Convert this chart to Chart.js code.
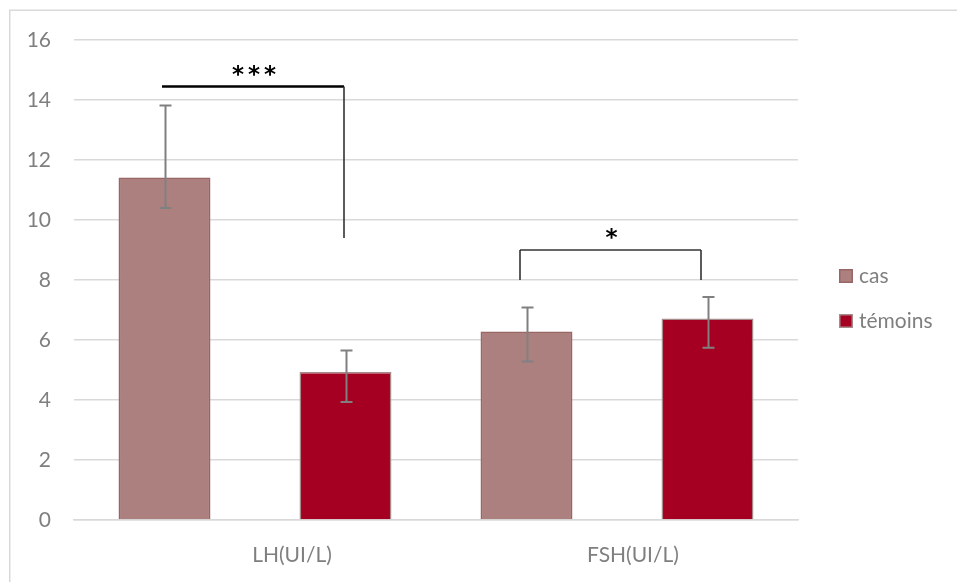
<!DOCTYPE html>
<html>
<head>
<meta charset="utf-8">
<script src="https://cdn.jsdelivr.net/npm/chart.js@4/dist/chart.umd.min.js"></script>
<style>
  html, body { margin: 0; padding: 0; background: #ffffff; }
  #wrap { width: 957px; height: 582px; position: relative; }
</style>
</head>
<body>
<div id="wrap"><canvas id="c" width="957" height="582"></canvas></div>
<script>
// Hormone levels, cases vs controls
const categories = ['LH(UI/L)', 'FSH(UI/L)'];
const seriesNames = ['cas', 'témoins'];
const casValues = [11.42, 6.28];
const temoinsValues = [4.93, 6.72];
const casErrPlus = [2.4, 0.8];
const casErrMinus = [1.02, 1.0];
const temoinsErrPlus = [0.72, 0.71];
const temoinsErrMinus = [1.0, 0.98];
const yTicks = [0, 2, 4, 6, 8, 10, 12, 14, 16];

// Significance brackets, one per category
const sigLabels = ['***', '*'];
const sigBarLevels = [14.45, 9.0];
const sigLeftDrop = [null, 8.0];
const sigRightDrop = [9.4, 8.0];

const FONT = 'Lato, "Open Sans", sans-serif';
const TEXT_GREY = '#7f7f7f';
const GRID_GREY = '#d9d9d9';
const xLabelNudge = [37, 16];
const bracketShift = [[-3, -2], [-6.5, -7]];

const colors = {
  casFill: '#ad8080', casBorder: '#9a6565',
  temFill: '#a50021', temBorder: '#a78a8a'
};

const errPlus = [casErrPlus, temoinsErrPlus];
const errMinus = [casErrMinus, temoinsErrMinus];

const framePlugin = {
  id: 'frame',
  beforeDraw(chart) {
    const ctx = chart.ctx;
    ctx.save();
    ctx.fillStyle = '#ffffff';
    ctx.fillRect(0, 0, chart.width, chart.height);
    ctx.strokeStyle = GRID_GREY;
    ctx.lineWidth = 1.5;
    ctx.strokeRect(9.75, 10.25, chart.width + 20, chart.height + 20);
    ctx.restore();
  }
};

const errorBarPlugin = {
  id: 'errorBars',
  afterDatasetsDraw(chart) {
    const ctx = chart.ctx;
    const y = chart.scales.y;
    ctx.save();
    ctx.strokeStyle = '#808080';
    ctx.lineWidth = 2;
    chart.data.datasets.forEach((ds, di) => {
      const meta = chart.getDatasetMeta(di);
      meta.data.forEach((bar, i) => {
        const v = ds.data[i];
        const top = y.getPixelForValue(v + errPlus[di][i]);
        const bot = y.getPixelForValue(v - errMinus[di][i]);
        const x = Math.round(bar.x) + 0.5;
        ctx.beginPath();
        ctx.moveTo(x, top); ctx.lineTo(x, bot);
        ctx.moveTo(x - 6, top); ctx.lineTo(x + 6, top);
        ctx.moveTo(x - 6, bot); ctx.lineTo(x + 6, bot);
        ctx.stroke();
      });
    });
    ctx.restore();
  }
};

const bracketPlugin = {
  id: 'brackets',
  afterDatasetsDraw(chart) {
    const ctx = chart.ctx;
    const y = chart.scales.y;
    const m0 = chart.getDatasetMeta(0), m1 = chart.getDatasetMeta(1);
    ctx.save();
    categories.forEach((c, i) => {
      const xl = Math.round(m0.data[i].x + bracketShift[i][0]);
      const xr = Math.round(m1.data[i].x + bracketShift[i][1]);
      const yb = y.getPixelForValue(sigBarLevels[i]);
      ctx.strokeStyle = i === 0 ? '#000000' : '#333333';
      ctx.lineWidth = i === 0 ? 2.5 : 1.6;
      ctx.beginPath();
      ctx.moveTo(xl, yb); ctx.lineTo(xr, yb);
      ctx.stroke();
      ctx.lineWidth = 1.6;
      ctx.strokeStyle = '#333333';
      ctx.beginPath();
      if (sigLeftDrop[i] !== null) {
        ctx.moveTo(xl, yb); ctx.lineTo(xl, y.getPixelForValue(sigLeftDrop[i]));
      }
      if (sigRightDrop[i] !== null) {
        ctx.moveTo(xr, yb); ctx.lineTo(xr, y.getPixelForValue(sigRightDrop[i]));
      }
      ctx.stroke();
      ctx.fillStyle = '#000000';
      ctx.font = 'bold 23px "DejaVu Sans", sans-serif';
      ctx.textAlign = 'center';
      ctx.textBaseline = 'alphabetic';
      ctx.letterSpacing = '4px';
      ctx.fillText(sigLabels[i], (xl + xr) / 2 + 3, yb - 5);
    });
    ctx.restore();
  }
};

const xLabelPlugin = {
  id: 'xLabels',
  afterDraw(chart) {
    const ctx = chart.ctx;
    const x = chart.scales.x;
    ctx.save();
    ctx.fillStyle = TEXT_GREY;
    ctx.font = '21px ' + FONT;
    ctx.textAlign = 'center';
    ctx.textBaseline = 'middle';
    categories.forEach((c, i) => {
      ctx.fillText(c, x.getPixelForValue(i) + xLabelNudge[i], chart.chartArea.bottom + 35);
    });
    ctx.restore();
  }
};

const legendPlugin = {
  id: 'sideLegend',
  afterDraw(chart) {
    const ctx = chart.ctx;
    const a = chart.chartArea;
    ctx.save();
    ctx.font = '21px ' + FONT;
    ctx.textBaseline = 'middle';
    ctx.textAlign = 'left';
    chart.data.datasets.forEach((ds, i) => {
      const cy = 276 + i * 45;
      const bx = a.right + 41;
      ctx.fillStyle = ds.backgroundColor;
      ctx.fillRect(bx, cy - 7, 14, 14);
      ctx.strokeStyle = ds.borderColor;
      ctx.lineWidth = 1.5;
      ctx.strokeRect(bx + 0.75, cy - 6.25, 12.5, 12.5);
      ctx.fillStyle = TEXT_GREY;
      ctx.fillText(ds.label, bx + 20, cy);
    });
    ctx.restore();
  }
};

new Chart(document.getElementById('c'), {
  type: 'bar',
  data: {
    labels: categories,
    datasets: [
      { label: seriesNames[0], data: casValues, backgroundColor: colors.casFill, borderColor: colors.casBorder, borderWidth: 1.5 },
      { label: seriesNames[1], data: temoinsValues, backgroundColor: colors.temFill, borderColor: colors.temBorder, borderWidth: 1.5 }
    ]
  },
  options: {
    responsive: false,
    animation: false,
    devicePixelRatio: 1,
    categoryPercentage: 1.0,
    barPercentage: 0.508,
    layout: { padding: { left: 0, right: 159, top: 40, bottom: 0 } },
    plugins: { legend: { display: false }, tooltip: { enabled: false } },
    scales: {
      x: {
        grid: { display: false },
        border: { display: true, color: GRID_GREY, width: 1.5 },
        ticks: { display: false },
        afterFit(s) { s.height = 62; }
      },
      y: {
        min: 0, max: 16,
        afterBuildTicks(s) { s.ticks = yTicks.map(v => ({ value: v })); },
        grid: { color: GRID_GREY, lineWidth: 1.5, drawTicks: false },
        border: { display: false },
        ticks: { color: TEXT_GREY, font: { family: FONT, size: 21 }, padding: 23 },
        afterFit(s) { s.width = 74; }
      }
    }
  },
  plugins: [framePlugin, errorBarPlugin, bracketPlugin, xLabelPlugin, legendPlugin]
});
</script>
</body>
</html>
